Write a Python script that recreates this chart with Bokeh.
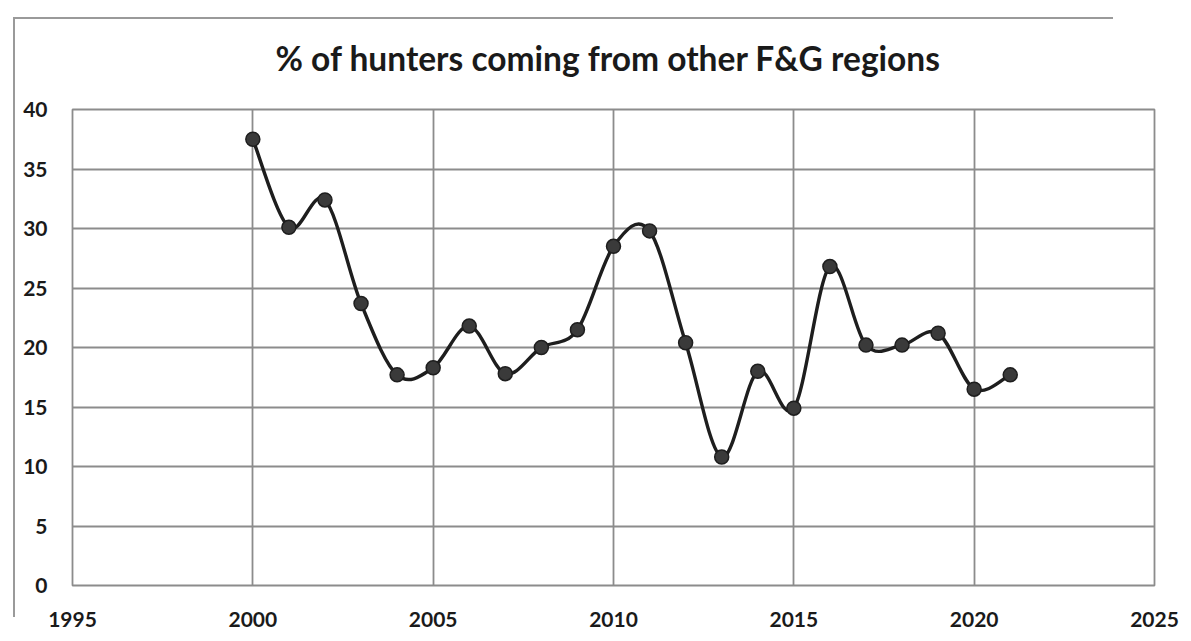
from bokeh.plotting import figure
from bokeh.models import Range1d, FixedTicker, Title, Div
from bokeh.layouts import column
from bokeh.embed import file_html
from bokeh.resources import INLINE

years = [2000, 2001, 2002, 2003, 2004, 2005, 2006, 2007, 2008, 2009, 2010,
         2011, 2012, 2013, 2014, 2015, 2016, 2017, 2018, 2019, 2020, 2021]
pct = [37.5, 30.1, 32.4, 23.7, 17.7, 18.3, 21.8, 17.8, 20.0, 21.5, 28.5,
       29.8, 20.4, 10.8, 18.0, 14.9, 26.8, 20.2, 20.2, 21.2, 16.5, 17.7]
x_ticks = [1995, 2000, 2005, 2010, 2015, 2020, 2025]
y_ticks = [0, 5, 10, 15, 20, 25, 30, 35, 40]
title_text = "% of hunters coming from other F&G regions"

FONT = "Lato"
GRID = "#8c8c8c"

p = figure(width=1183, height=633, output_backend="svg", toolbar_location=None,
           x_range=Range1d(1995, 2025), y_range=Range1d(0, 40),
           min_border_left=72, min_border_right=29, min_border_top=109,
           min_border_bottom=48, border_fill_color="white")
p.title = Title(text=title_text, align="left", offset=203,
                text_font=FONT, text_font_size="33.5px", text_font_style="bold",
                text_color="#1a1a1a", standoff=64)

# smooth (Catmull-Rom style) curve through the data, drawn as bezier segments
n = len(years)
x0, y0, x1, y1, cx0, cy0, cx1, cy1 = [], [], [], [], [], [], [], []
for i in range(n - 1):
    pa = (years[max(i - 1, 0)], pct[max(i - 1, 0)])
    pb = (years[i], pct[i])
    pc = (years[i + 1], pct[i + 1])
    pd = (years[min(i + 2, n - 1)], pct[min(i + 2, n - 1)])
    x0.append(pb[0]); y0.append(pb[1]); x1.append(pc[0]); y1.append(pc[1])
    cx0.append(pb[0] + (pc[0] - pa[0]) / 6); cy0.append(pb[1] + (pc[1] - pa[1]) / 6)
    cx1.append(pc[0] - (pd[0] - pb[0]) / 6); cy1.append(pc[1] - (pd[1] - pb[1]) / 6)
p.bezier(x0=x0, y0=y0, x1=x1, y1=y1, cx0=cx0, cy0=cy0, cx1=cx1, cy1=cy1,
         line_color="#1e1e1e", line_width=3.4)
p.scatter(years, pct, size=14, fill_color="#3a3a3a", line_color="#1e1e1e", line_width=1.5)

for ax in (p.xaxis, p.yaxis):
    ax.axis_line_color = None
    ax.major_tick_line_color = None
    ax.minor_tick_line_color = None
    ax.major_label_text_font = FONT
    ax.major_label_text_font_size = "21px"
    ax.major_label_text_font_style = "bold"
    ax.major_label_text_color = "#1a1a1a"
p.xaxis.ticker = FixedTicker(ticks=x_ticks)
p.yaxis.ticker = FixedTicker(ticks=y_ticks)
p.xaxis.major_label_standoff = 20
p.yaxis.major_label_standoff = 19

p.xgrid.ticker = FixedTicker(ticks=x_ticks)
p.ygrid.ticker = FixedTicker(ticks=y_ticks)
p.grid.grid_line_color = GRID
p.grid.grid_line_width = 1.8
p.outline_line_color = GRID
p.outline_line_width = 1.8

# chart-area border: only its left and top edges are drawn
edge = Div(text="", width=1100, height=600,
           styles={"position": "absolute", "left": "8px", "top": "12px",
                   "border-left": "2px solid #9a9a9a", "border-top": "2px solid #9a9a9a",
                   "border-right": "none", "border-bottom": "none",
                   "pointer-events": "none", "box-sizing": "border-box"})
layout = column(p, edge, styles={"position": "relative"})

open("out.html", "w").write(file_html(layout, INLINE))
